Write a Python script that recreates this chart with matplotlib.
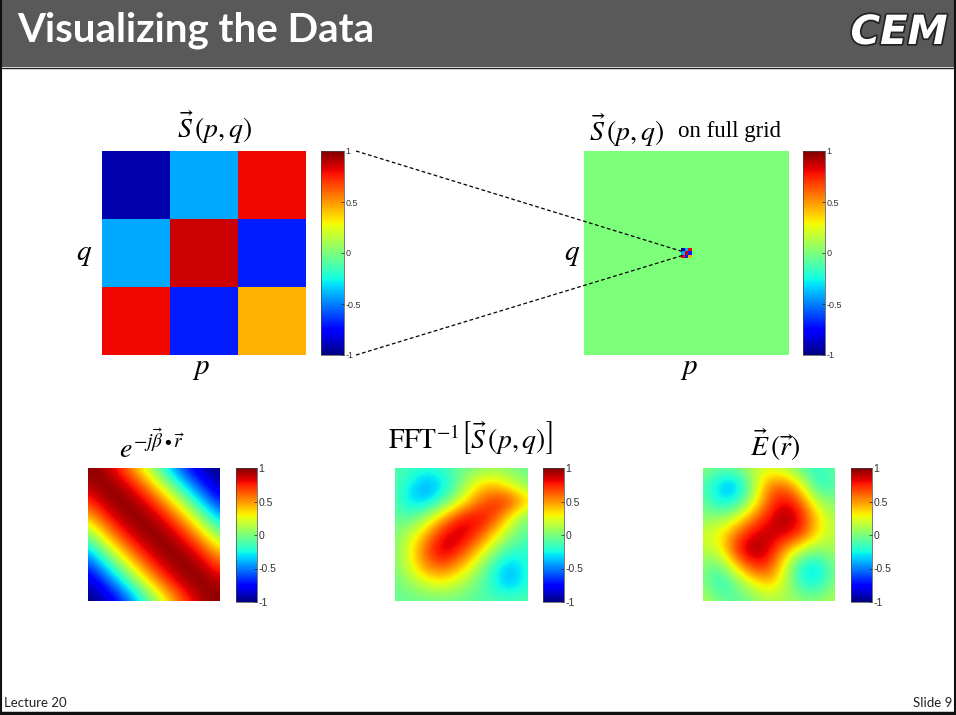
import numpy as np
import matplotlib
matplotlib.use("Agg")
import matplotlib.pyplot as plt
import matplotlib.patheffects as pe

W, H = 956, 715

# values
cbar_ticks = [-1, -0.5, 0, 0.5, 1]
cbar_labels = ["-1", "-0.5", "0", "0.5", "1"]

s_pq = [
    [-0.92, -0.42, 0.80],
    [-0.42, 0.86, -0.69],
    [0.80, -0.69, 0.44],
]

grid_size = 59

plane_wave = [
    [1.00, 0.92, 0.71, 0.38, 0.00, -0.38, -0.71, -0.92, -1.00],
    [0.92, 1.00, 0.92, 0.71, 0.38, 0.00, -0.38, -0.71, -0.92],
    [0.71, 0.92, 1.00, 0.92, 0.71, 0.38, 0.00, -0.38, -0.71],
    [0.38, 0.71, 0.92, 1.00, 0.92, 0.71, 0.38, 0.00, -0.38],
    [0.00, 0.38, 0.71, 0.92, 1.00, 0.92, 0.71, 0.38, 0.00],
    [-0.38, 0.00, 0.38, 0.71, 0.92, 1.00, 0.92, 0.71, 0.38],
    [-0.71, -0.38, 0.00, 0.38, 0.71, 0.92, 1.00, 0.92, 0.71],
    [-0.92, -0.71, -0.38, 0.00, 0.38, 0.71, 0.92, 1.00, 0.92],
    [-1.00, -0.92, -0.71, -0.38, 0.00, 0.38, 0.71, 0.92, 1.00],
]

fft_field = [
    [-0.10, -0.15, -0.20, -0.15, -0.05, 0.00, 0.05, 0.00, -0.05],
    [-0.10, -0.30, -0.45, -0.30, 0.00, 0.35, 0.40, 0.20, 0.00],
    [-0.10, -0.35, -0.35, -0.10, 0.25, 0.55, 0.75, 0.75, 0.40],
    [-0.05, -0.10, 0.15, 0.50, 0.80, 0.85, 0.70, 0.25, -0.05],
    [0.00, 0.20, 0.50, 0.85, 0.90, 0.70, 0.35, 0.05, -0.10],
    [0.00, 0.30, 0.70, 0.92, 0.70, 0.40, 0.05, -0.20, -0.20],
    [0.00, 0.25, 0.55, 0.60, 0.40, 0.10, -0.25, -0.42, -0.20],
    [-0.05, 0.05, 0.20, 0.25, 0.10, -0.05, -0.25, -0.40, -0.20],
    [-0.05, -0.05, -0.05, -0.05, -0.05, -0.10, -0.10, -0.10, -0.10],
]

e_field = [
    [0.05, -0.05, 0.00, 0.15, 0.20, 0.10, -0.10, -0.20, -0.05],
    [-0.10, -0.35, -0.45, 0.05, 0.55, 0.60, 0.25, -0.25, -0.10],
    [-0.05, -0.30, -0.25, 0.15, 0.65, 0.85, 0.60, 0.10, 0.00],
    [0.05, 0.05, 0.20, 0.55, 0.80, 0.97, 0.80, 0.35, 0.10],
    [0.20, 0.30, 0.60, 0.85, 0.90, 0.85, 0.70, 0.30, 0.15],
    [0.15, 0.20, 0.75, 0.97, 0.85, 0.45, 0.10, 0.00, 0.10],
    [0.00, -0.10, 0.30, 0.70, 0.70, 0.20, -0.30, -0.35, 0.00],
    [0.05, -0.25, -0.05, 0.20, 0.40, 0.15, -0.20, -0.25, 0.05],
    [0.15, 0.00, -0.10, 0.00, 0.10, 0.10, 0.05, 0.05, 0.15],
]


def px_axes(fig, x0, y0, x1, y1):
    return fig.add_axes([x0 / W, 1 - y1 / H, (x1 - x0) / W, (y1 - y0) / H])


def draw_panel(fig, data, box, cbox, interp, fs):
    ax = px_axes(fig, *box)
    if interp == "nearest":
        im = ax.imshow(data, cmap="jet", vmin=-1, vmax=1, aspect="auto", interpolation="nearest")
    else:
        n = len(data) - 1
        pad = 0.5 / n
        im = ax.imshow(data, cmap="jet", vmin=-1, vmax=1, aspect="auto",
                       extent=(-pad, 1 + pad, 1 + pad, -pad),
                       interpolation=interp, interpolation_stage="data")
        ax.set_xlim(0, 1)
        ax.set_ylim(1, 0)
    ax.axis("off")

    cax = px_axes(fig, *cbox)
    cb = fig.colorbar(im, cax=cax)
    cb.set_ticks(cbar_ticks)
    cb.set_ticklabels(cbar_labels)
    cb.outline.set_linewidth(0.5)
    cb.outline.set_edgecolor("#444444")
    cax.tick_params(direction="in", length=2, width=0.5, pad=1, labelsize=fs,
                    labelcolor="#333333", color="#222222")
    return ax


fig = plt.figure(figsize=(W / 100, H / 100), dpi=100, facecolor="white")
plt.rcParams["mathtext.fontset"] = "stix"
plt.rcParams["font.family"] = ["Liberation Sans", "DejaVu Sans"]

# slide frame and header, axes in pixel coordinates
bg = fig.add_axes([0, 0, 1, 1], zorder=0)
bg.set_xlim(0, W)
bg.set_ylim(H, 0)
bg.axis("off")
bg.fill_between([0, W], 0, 67, color="#595959", lw=0)
bg.plot([0, W], [67.5, 67.5], color="#222222", lw=1)
bg.plot([0.5, 0.5], [0, H], color="#111111", lw=1.5)
bg.plot([W - 0.5, W - 0.5], [0, H], color="#111111", lw=1.5)
bg.plot([0, W], [713, 713], color="#111111", lw=2.5)

bg.text(17, 30, "Visualizing the Data", color="white", fontsize=29, fontweight="bold",
        family="Lato", va="center", ha="left")
bg.text(899, 33, "CEM", color="white", fontsize=29, fontweight="bold", style="italic",
        family="DejaVu Sans", va="center", ha="center",
        path_effects=[pe.withStroke(linewidth=2.5, foreground="#222222")])
bg.text(4, 703, "Lecture 20", color="#222222", fontsize=9.5, family="Lato", va="center", ha="left")
bg.text(952, 703, "Slide 9", color="#222222", fontsize=9.5, family="Lato", va="center", ha="right")

# top row
draw_panel(fig, s_pq, (102, 151, 306, 355), (321, 151, 344, 355), "nearest", 6.5)

full_grid = np.zeros((grid_size, grid_size))
mid = grid_size // 2
full_grid[mid - 1:mid + 2, mid - 1:mid + 2] = s_pq
draw_panel(fig, full_grid, (584, 151, 788, 355), (803, 151, 825, 355), "nearest", 6.5)

# bottom row
draw_panel(fig, plane_wave, (88, 468, 220, 601), (236, 468, 257, 602), "bicubic", 7.5)
draw_panel(fig, fft_field, (395, 468, 528, 601), (543, 468, 564, 602), "bicubic", 7.5)
draw_panel(fig, e_field, (703, 468, 835, 601), (851, 468, 872, 602), "bicubic", 7.5)

# overlay for dashed zoom lines and equations
top = fig.add_axes([0, 0, 1, 1], zorder=5)
top.set_xlim(0, W)
top.set_ylim(H, 0)
top.axis("off")
top.patch.set_alpha(0)
top.plot([356, 684], [151, 252], color="black", lw=0.9, ls=(0, (3, 2)))
top.plot([356, 684], [355, 255], color="black", lw=0.9, ls=(0, (3, 2)))

eq = dict(color="black", va="center", ha="center")
top.text(215, 127, r"$\vec{S}\,\left(p,q\right)$", fontsize=20, **eq)
top.text(627, 130, r"$\vec{S}\,\left(p,q\right)$", fontsize=20, **eq)
top.text(730, 132, "on full grid", fontsize=16.5, family="Liberation Serif", **eq)
top.text(84, 254, r"$q$", fontsize=21, **eq)
top.text(572, 254, r"$q$", fontsize=21, **eq)
top.text(201, 368, r"$p$", fontsize=21, **eq)
top.text(689, 368, r"$p$", fontsize=21, **eq)
top.text(152, 447, r"$e^{-j\vec{\beta}\bullet\vec{r}}$", fontsize=20, **eq)
top.text(470, 438, r"$\mathrm{FFT}^{-1}\left[\vec{S}\,\left(p,q\right)\right]$", fontsize=20, **eq)
top.text(775, 445, r"$\vec{E}\,\left(\vec{r}\right)$", fontsize=20, **eq)

fig.savefig("out.png", dpi=100)
